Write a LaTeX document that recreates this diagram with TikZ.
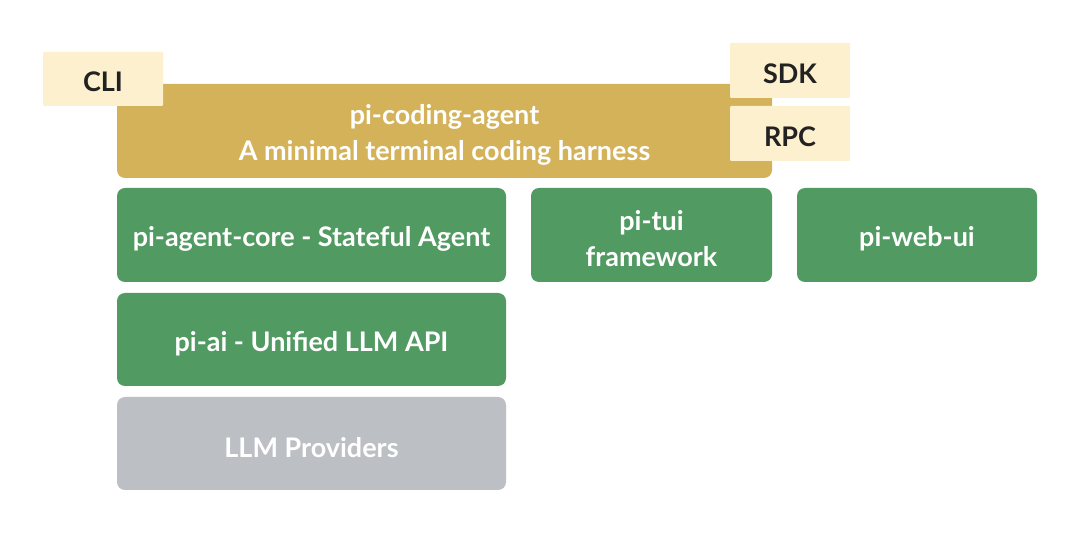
\documentclass[tikz,border=0pt]{standalone}
\usepackage{fontspec}
\setmainfont{Lato}
\definecolor{creamfill}{HTML}{FDF0CF}
\definecolor{goldfill}{HTML}{D4B25A}
\definecolor{greenfill}{HTML}{519A62}
\definecolor{greyfill}{HTML}{BCBFC4}
\definecolor{darktext}{HTML}{222222}
\tikzset{
  boxtext/.style={inner sep=0pt,align=center,yshift=-4pt,
    font=\bfseries\fontsize{27}{36}\selectfont},
  layerbox/.style={rounded corners=8pt,inner sep=0pt},
  entrybox/.style={fill=creamfill,rounded corners=1pt,inner sep=0pt,
    minimum width=120pt,minimum height=55pt}
}
\begin{document}
\begin{tikzpicture}[x=1pt,y=-1pt]
  \useasboundingbox[fill=white] (0,0) rectangle (1080,534);
  % top layer with its entry points laid over the corners
  \node[layerbox,fill=goldfill,minimum width=655pt,minimum height=94pt,
    label={[boxtext,text=white]center:{pi-coding-agent\\A minimal terminal coding harness}}]
    (codingagent) at (444.5,131) {};
  \node[entrybox,minimum height=54pt,
    label={[boxtext,text=darktext,yshift=1pt]center:CLI}] (cli) at (103,79) {};
  \node[entrybox,label={[boxtext,text=darktext,yshift=1pt]center:SDK}] (sdk) at (790,70.5) {};
  \node[entrybox,label={[boxtext,text=darktext,yshift=1pt]center:RPC}] (rpc) at (790,133.5) {};
  % middle row
  \node[layerbox,fill=greenfill,minimum width=389pt,minimum height=94pt,
    label={[boxtext,text=white]center:pi-agent-core - Stateful Agent}]
    (agentcore) at (311.5,235) {};
  \node[layerbox,fill=greenfill,minimum width=241pt,minimum height=94pt,
    label={[boxtext,text=white]center:{pi-tui\\framework}}]
    (tui) at (651.5,235) {};
  \node[layerbox,fill=greenfill,minimum width=240pt,minimum height=94pt,
    label={[boxtext,text=white]center:pi-web-ui}]
    (webui) at (917,235) {};
  % lower stack
  \node[layerbox,fill=greenfill,minimum width=389pt,minimum height=93pt,
    label={[boxtext,text=white]center:pi-ai - Unified LLM API}]
    (piai) at (311.5,339.5) {};
  \node[layerbox,fill=greyfill,minimum width=389pt,minimum height=93pt,
    label={[boxtext,text=white]center:LLM Providers}]
    (providers) at (311.5,443.5) {};
\end{tikzpicture}
\end{document}
